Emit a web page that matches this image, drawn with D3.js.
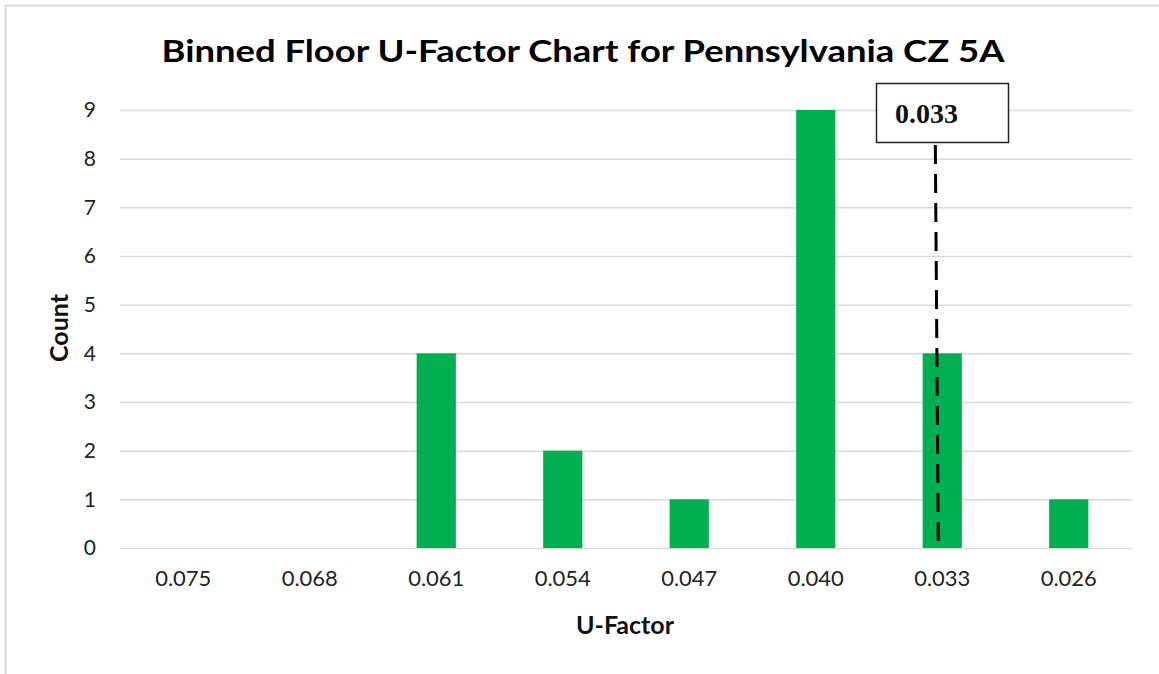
<!DOCTYPE html>
<html><head><meta charset="utf-8">
<script src="https://cdn.jsdelivr.net/npm/d3@7"></script>
<style>body{margin:0;background:#fff;} svg{display:block;}</style>
</head><body>
<svg id="c" width="1159" height="674"></svg>
<script>
const categories = ["0.075","0.068","0.061","0.054","0.047","0.040","0.033","0.026"];
const counts = [0,0,4,2,1,9,4,1];
const yTicks = [0,1,2,3,4,5,6,7,8,9];
const markerValue = 0.0333;
const markerLabel = "0.033";
const title = "Binned Floor U-Factor Chart for Pennsylvania CZ 5A";

const svg = d3.select("#c");
const font = "Lato, 'Open Sans', sans-serif";
const m = {l:120, r:1132, t:110, b:548};

svg.append("rect").attr("x",5.5).attr("y",5.5).attr("width",1200).attr("height",700)
  .attr("fill","#fff").attr("stroke","#d9d9d9").attr("stroke-width",2);

const x = d3.scaleBand().domain(categories).range([m.l,m.r]).paddingInner(0.69).paddingOuter(0.345);
const y = d3.scaleLinear().domain([0,9]).range([m.b,m.t]);
const xv = d3.scaleLinear()
  .domain([+categories[0], +categories[categories.length-1]])
  .range([x(categories[0])+x.bandwidth()/2, x(categories[categories.length-1])+x.bandwidth()/2]);

const yAxis = d3.axisLeft(y).tickValues(yTicks).tickSize(-(m.r-m.l)).tickPadding(24);
const gy = svg.append("g").attr("transform",`translate(${m.l},0)`).call(yAxis);
gy.select(".domain").remove();
gy.selectAll(".tick line").attr("stroke","#d9d9d9").attr("stroke-width",1.5);
gy.selectAll(".tick text").attr("font-family",font).attr("font-size",21).attr("fill","#222");

svg.append("g").selectAll("rect").data(counts).join("rect")
  .attr("x",(d,i)=>x(categories[i]))
  .attr("y",d=>y(d))
  .attr("width",x.bandwidth())
  .attr("height",d=>y(0)-y(d))
  .attr("fill","#00b050");

const xAxis = d3.axisBottom(x).tickSize(0).tickPadding(22);
const gx = svg.append("g").attr("transform",`translate(0,${m.b})`).call(xAxis);
gx.select(".domain").remove();
gx.selectAll(".tick text").attr("font-family",font).attr("font-size",22).attr("fill","#222");

const mx = xv(markerValue);
svg.append("line").attr("x1",mx-1.5).attr("x2",mx+1.5).attr("y1",145).attr("y2",y(0))
  .attr("stroke","#000").attr("stroke-width",3).attr("stroke-dasharray","19,10");
svg.append("rect").attr("x",876.5).attr("y",83.5).attr("width",132).attr("height",59)
  .attr("fill","#fff").attr("stroke","#222").attr("stroke-width",1.5);
svg.append("text").attr("x",895).attr("y",123).text(markerLabel)
  .attr("font-family","'Liberation Serif', serif").attr("font-weight","bold").attr("font-size",28).attr("fill","#111");

svg.append("text").attr("x",583).attr("y",62).attr("text-anchor","middle").text(title)
  .attr("font-family",font).attr("font-weight","bold").attr("font-size",31)
  .attr("textLength",843).attr("lengthAdjust","spacingAndGlyphs").attr("fill","#000");
svg.append("text").attr("x",625).attr("y",634).attr("text-anchor","middle").text("U-Factor")
  .attr("font-family",font).attr("font-weight","bold").attr("font-size",25).attr("fill","#111");
svg.append("text").attr("transform","translate(68,328) rotate(-90)").attr("text-anchor","middle").text("Count")
  .attr("font-family",font).attr("font-weight","bold").attr("font-size",25).attr("fill","#111");
</script>
</body></html>
